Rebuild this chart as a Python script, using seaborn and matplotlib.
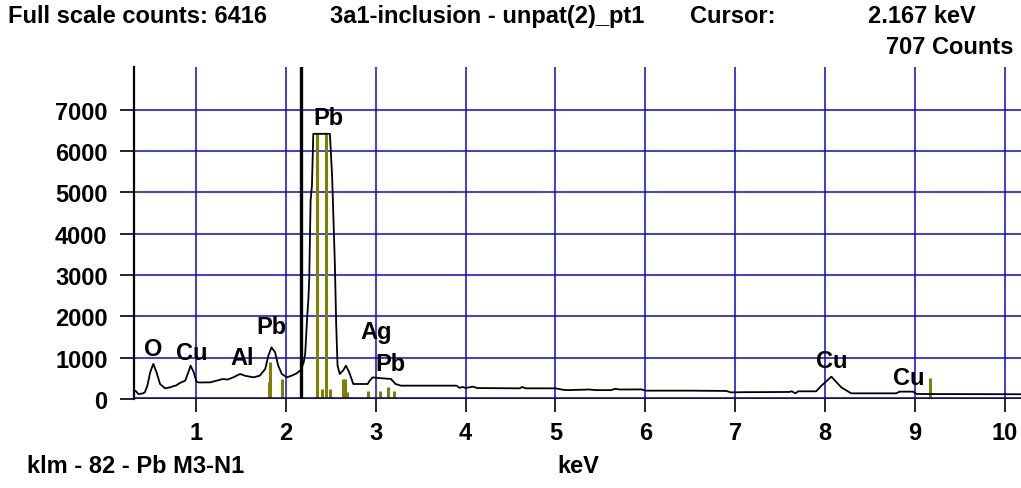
import numpy as np
import pandas as pd
import matplotlib
matplotlib.use("Agg")
import matplotlib.pyplot as plt
import seaborn as sns

# ---------------- data ----------------
energy_kev = [0.31, 0.33, 0.36, 0.40, 0.43, 0.46, 0.49, 0.525, 0.56, 0.60, 0.655, 0.71,
              0.78, 0.82, 0.88, 0.915, 0.94, 0.975, 1.005, 1.03, 1.16, 1.23, 1.30, 1.35,
              1.415, 1.49, 1.55, 1.64, 1.71, 1.77, 1.805, 1.84, 1.88, 1.915, 1.955, 2.01,
              2.065, 2.12, 2.168, 2.20, 2.215, 2.235, 2.25, 2.26, 2.275, 2.29, 2.305, 2.49,
              2.515, 2.545, 2.56, 2.575, 2.60, 2.64, 2.668, 2.705, 2.75, 2.80, 2.91, 2.935,
              2.965, 3.02, 3.08, 3.17, 3.22, 3.28, 3.5, 3.9, 3.93, 3.97, 4.00, 4.08, 4.13,
              4.6, 4.63, 4.67, 5.0, 5.08, 5.14, 5.38, 5.45, 5.62, 5.66, 5.72, 5.96, 6.0,
              6.5, 6.9, 6.95, 7.1, 7.6, 7.63, 7.67, 7.70, 7.90, 7.96, 8.07, 8.18, 8.29,
              8.79, 8.83, 8.98, 9.02, 10.18]
counts = [210, 190, 120, 130, 160, 330, 645, 850, 650, 363, 258, 282,
          330, 387, 444, 650, 806, 645, 420, 400, 403, 444, 484, 470,
          524, 605, 560, 524, 565, 726, 1048, 1250, 1129, 806, 605, 524,
          565, 621, 707, 900, 1100, 1900, 2400, 2903, 4800, 5161, 6416, 6416,
          5363, 3266, 1800, 806, 605, 700, 806, 645, 363, 363, 363, 450,
          524, 510, 500, 484, 363, 323, 323, 323, 270, 290, 265, 300, 265,
          258, 290, 258, 258, 225, 215, 230, 215, 215, 245, 230, 232, 202,
          202, 195, 160, 165, 170, 186, 137, 186, 186, 323, 540, 282, 137,
          137, 178, 178, 121, 115]

marker_kev = [1.81, 1.823, 1.953, 2.342, 2.350, 2.398, 2.443, 2.49, 2.635, 2.655,
              2.676, 2.917, 3.047, 3.14, 3.206, 9.165]
marker_counts = [400, 887, 484, 6416, 6416, 242, 6416, 242, 484, 484,
                 160, 202, 202, 282, 202, 500]

peak_labels = ["O", "Cu", "Al", "Pb", "Pb", "Ag", "Pb", "Cu", "Cu"]

x_ticks = [1, 2, 3, 4, 5, 6, 7, 8, 9, 10]
y_ticks = [0, 1000, 2000, 3000, 4000, 5000, 6000, 7000]

cursor_kev = 2.167
cursor_counts = 707
full_scale = 6416

# ---------------- style ----------------
sns.set_theme(style="white")
plt.rcParams['font.family'] = ['Liberation Sans', 'DejaVu Sans']
plt.rcParams['font.weight'] = 'bold'
plt.rcParams['text.color'] = 'black'
plt.rcParams['xtick.color'] = 'black'
plt.rcParams['ytick.color'] = 'black'
plt.rcParams['xtick.labelcolor'] = 'black'
plt.rcParams['ytick.labelcolor'] = 'black'

W, H = 1021, 489
fig = plt.figure(figsize=(W / 100, H / 100), dpi=100)
fig.patch.set_facecolor('white')

def fx(px):
    return px / W

def fy(py):
    return 1 - py / H

ax_left, ax_top, ax_right, ax_bottom = 134, 68, 1021, 400
ax = fig.add_axes([fx(ax_left), fy(ax_bottom), fx(ax_right - ax_left), (ax_bottom - ax_top) / H])
ax.set_facecolor('white')

grid_blue = '#0A0AD0'
olive = '#808000'
FS = 17

ax.set_xlim(0.31, 10.18)
ax.set_ylim(0, 8033)

for xv in x_ticks:
    ax.axvline(xv, color=grid_blue, lw=1.1, zorder=1)
for yv in y_ticks[1:]:
    ax.axhline(yv, color=grid_blue, lw=1.1, zorder=1)

ax.vlines(marker_kev, 0, marker_counts, color=olive, lw=2.2, zorder=2)

df = pd.DataFrame({"keV": energy_kev, "Counts": counts})
sns.lineplot(data=df, x="keV", y="Counts", ax=ax, color='black', lw=1.3,
             estimator=None, sort=False, zorder=3)

ax.axhline(0, color='#101070', lw=2.6, zorder=4)
ax.axvline(cursor_kev, color='black', lw=2.4, zorder=5)

label_pos = [(0.522, 1210), (0.95, 1137), (1.508, 1016), (1.842, 1766), (2.47, 6823),
             (3.01, 1645), (3.16, 847), (8.07, 920), (8.93, 532)]
for lab, (lx, ly) in zip(peak_labels, label_pos):
    ax.text(lx, ly, lab, ha='center', va='center', fontsize=FS, fontweight='bold',
            color='black', zorder=6)

ax.set_xticks(x_ticks)
ax.set_xticklabels([str(v) for v in x_ticks])
ax.set_yticks(y_ticks)
ax.set_yticklabels([str(v) for v in y_ticks])
ax.tick_params(axis='x', direction='out', length=9.5, width=1.2, color='black',
               labelcolor='black', pad=6, labelsize=FS, bottom=True)
ax.tick_params(axis='y', direction='out', length=10, width=1.2, color='black',
               labelcolor='black', pad=9, labelsize=FS, left=True)
for t in ax.get_xticklabels() + ax.get_yticklabels():
    t.set_fontweight('bold')
ax.set_xlabel("")
ax.set_ylabel("")

for s in ['top', 'right', 'bottom']:
    ax.spines[s].set_visible(False)
ax.spines['left'].set_color('black')
ax.spines['left'].set_linewidth(1.6)

# header / footer texts
tk = dict(fontsize=FS, fontweight='bold', color='black')
fig.text(fx(8), fy(5), f"Full scale counts: {full_scale}", ha='left', va='top', **tk)
fig.text(fx(330), fy(5), "3a1-inclusion - unpat(2)_pt1", ha='left', va='top', **tk)
fig.text(fx(690), fy(5), "Cursor:", ha='left', va='top', **tk)
fig.text(fx(868), fy(5), f"{cursor_kev:.3f} keV", ha='left', va='top', **tk)
fig.text(fx(1013), fy(36), f"{cursor_counts} Counts", ha='right', va='top', **tk)
fig.text(fx(27), fy(455), "klm - 82 - Pb M3-N1", ha='left', va='top', **tk)
fig.text(fx(557), fy(455), "keV", ha='left', va='top', **tk)

fig.savefig("out.png", dpi=100, facecolor='white')
